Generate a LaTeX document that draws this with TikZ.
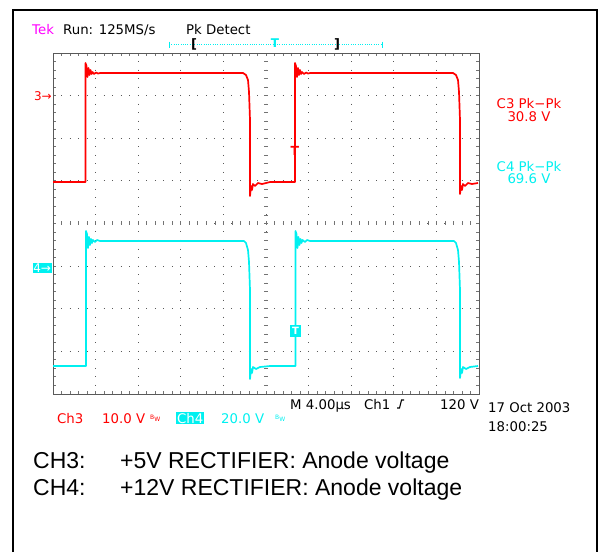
\documentclass[tikz,border=0pt]{standalone}
\usepackage{fontspec}
\setmainfont{Liberation Sans}
\newfontfamily\tekfont{DejaVu Sans}
\usetikzlibrary{positioning}
\definecolor{tekred}{RGB}{255,0,0}
\definecolor{tekcyan}{RGB}{0,240,240}
\definecolor{tekmag}{RGB}{255,0,255}

\begin{document}
\begin{tikzpicture}[x=1pt,y=-1pt,
   tek/.style={font=\tekfont\fontsize{13.3}{13}\selectfont, inner sep=0pt, anchor=base west},
   chmark/.style={font=\tekfont\fontsize{12}{12}\selectfont, inner sep=1pt},
   griddot/.style={black!65, line width=0.9pt, dash pattern=on 0.9pt off 7.62pt, dash phase=0.45pt},
   gridtick/.style={black!55, line width=0.7pt},
   trace/.style={line width=1.7pt, line join=round},
   note/.style={font=\fontsize{23}{23}\selectfont, inner sep=0pt, anchor=base west}]
   \useasboundingbox (0,0) rectangle (602,552);
   % outer frame, open at the bottom
   \draw[line width=2.2pt] (13,552) -- (13,10) -- (597,10) -- (597,552);

   % graticule
   \foreach \i in {1,...,9}
      \draw[griddot] ({53+42.6*\i},53) -- ({53+42.6*\i},393.8);
   \foreach \j in {1,...,7}
      \draw[griddot] (53,{53+42.6*\j}) -- (479,{53+42.6*\j});
   \foreach \k in {1,...,49}
      \draw[gridtick] ({53+8.52*\k},53) -- +(0,3)
                      ({53+8.52*\k},393.8) -- +(0,-3)
                      ({53+8.52*\k},221.4) -- +(0,4);
   \foreach \k in {1,...,39}
      \draw[gridtick] (53,{53+8.52*\k}) -- +(3,0)
                      (479,{53+8.52*\k}) -- +(-3,0)
                      (264,{53+8.52*\k}) -- +(4,0);
   \node[draw=black!65, line width=1.2pt, minimum width=426pt, minimum height=340.8pt,
         anchor=north west, inner sep=0pt] (screen) at (53,53) {};

   % header
   \node[tek, tekmag] (tek) at (32,34) {Tek};
   \node[tek] (run) at (63,34) {Run: 125MS/s};
   \node[tek] (acq) at (186,34) {Pk Detect};
   \coordinate (barL) at (169,44.7);
   \coordinate (barR) at (382,44.7);
   \draw[tekcyan, line width=0.9pt, dash pattern=on 1pt off 1.3pt] (barL) -- (barR);
   \draw[tekcyan, line width=0.9pt] (barL) ++(0,-3) -- +(0,6) (barR) ++(0,-3) -- +(0,6);
   \node[tek, font=\tekfont\bfseries\fontsize{13}{13}\selectfont, anchor=center] (brL) at (194,44) {[};
   \node[tek, font=\tekfont\bfseries\fontsize{13}{13}\selectfont, anchor=center] (brR) at (337,44) {]};
   \node[tek, tekcyan, font=\tekfont\bfseries\fontsize{12}{12}\selectfont, anchor=center] (trigpos) at (275,43.5) {T};

   % channel markers
   \node[chmark, tekred, anchor=base east] (gnd3) at (53,100) {3→};
   \node[chmark, fill=tekcyan, text=white, anchor=east, inner sep=0.8pt] (gnd4) at (52,268) {4→};

   % waveforms
   \draw[trace, tekred] plot coordinates {(53,182) (85.5,182) (85.5,63) (86.5,66) (87.5,77) (88.5,68)
      (89.5,75) (90.5,70) (91.5,74) (92.5,72) (94,74) (96,72.5) (98,73.5) (100,73) (243,73) (246,75)
      (248,80) (249,92) (250,120) (250,196) (251,186) (252,190) (253,184) (255,186) (258,183)
      (262,184) (270,182) (295,182) (295,63) (296,66) (297,77) (298,68) (299,75) (300,70) (301,74)
      (302,72) (304,74) (306,72.5) (308,73.5) (310,73) (453,73) (456,75) (458,80) (459,92) (460,120)
      (460,194) (461,186) (462,190) (463,184) (465,186) (468,183) (472,184) (478,183)};
   \draw[trace, tekcyan] plot coordinates {(53,366) (86,366) (86,231) (87,234) (88,248) (89,237)
      (90,245) (91,239) (92,243) (93,240) (95,242) (97,240) (100,241) (244,241) (246,243)
      (248,250) (249,262) (250,290) (250,379) (251,369) (252,373) (253,367) (256,369) (260,367)
      (270,366) (295.5,366) (295.5,231) (296.5,234) (297.5,248) (298.5,237) (299.5,245) (300.5,239)
      (301.5,243) (302.5,240) (305,242) (307,240) (310,241) (454,241) (456,243) (458,250)
      (459,262) (460,290) (460,378) (461,369) (462,373) (463,367) (466,369) (470,367) (478,366)};
   \node[chmark, tekred, font=\tekfont\bfseries\fontsize{12.5}{12}\selectfont, inner sep=0pt] (trig3) at (295,151) {T};
   \node[chmark, fill=tekcyan, text=white, font=\tekfont\bfseries\fontsize{10}{10}\selectfont,
         minimum width=11pt, minimum height=12.5pt, inner sep=0pt] (trig4) at (295.5,331) {T};

   % measurements
   \node[tek, tekred, anchor=base] (c3pk) at (529,108) {C3 Pk−Pk};
   \node[tek, tekred, anchor=base] (c3val) at (529,121) {30.8 V};
   \node[tek, tekcyan, anchor=base] (c4pk) at (529,171) {C4 Pk−Pk};
   \node[tek, tekcyan, anchor=base] (c4val) at (529,183.5) {69.6 V};

   % bottom readout
   \node[tek] (tbase) at (290,409) {M 4.00µs};
   \node[tek] (trsrc) at (364,409) {Ch1};
   \draw[line width=1.1pt] (397,408) -- (399.5,408) -- (401.5,400) -- (404,400);
   \node[tek] (trlev) at (440,409) {120 V};
   \node[tek] (date) at (488,412) {17 Oct 2003};
   \node[tek] (time) at (488,431) {18:00:25};
   \node[tek, tekred] (ch3) at (57,423) {Ch3};
   \node[tek, tekred] (ch3v) at (102,423) {10.0 V};
   \node[tekred, font=\tekfont\fontsize{6}{6}\selectfont, inner sep=0pt, anchor=base west]
      (bw3) at (150,419) {B\raisebox{-2.5pt}{W}};
   \node[tek, fill=tekcyan, text=white, inner sep=1pt] (ch4) at (176,423) {Ch4};
   \node[tek, tekcyan] (ch4v) at (221,423) {20.0 V};
   \node[tekcyan, font=\tekfont\fontsize{6}{6}\selectfont, inner sep=0pt, anchor=base west]
      (bw4) at (275,419) {B\raisebox{-2.5pt}{W}};

   % channel notes
   \node[note] (n3) at (33,468) {CH3:};
   \node[note] (t3) at (120,468) {+5V RECTIFIER: Anode voltage};
   \node[note] (n4) at (33,495) {CH4:};
   \node[note] (t4) at (120,495) {+12V RECTIFIER: Anode voltage};
\end{tikzpicture}
\end{document}
